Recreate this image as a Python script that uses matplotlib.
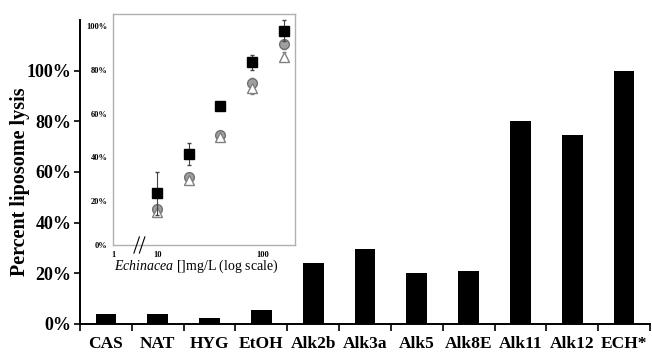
import matplotlib
matplotlib.use("Agg")
import matplotlib.pyplot as plt
import numpy as np

plt.rcParams['font.family'] = ['Liberation Serif', 'DejaVu Serif']
plt.rcParams['mathtext.fontset'] = 'custom'
plt.rcParams['mathtext.rm'] = 'Liberation Serif'
plt.rcParams['mathtext.it'] = 'Liberation Serif:italic'

# Main bar chart data
categories = ["CAS", "NAT", "HYG", "EtOH", "Alk2b", "Alk3a", "Alk5", "Alk8E", "Alk11", "Alk12", "ECH*"]
lysis = [4.0, 3.8, 2.5, 5.5, 24.0, 29.5, 20.0, 21.0, 80.0, 74.5, 100.0]
main_yticks = [0, 20, 40, 60, 80, 100]

# Inset dose-response data (Echinacea mg/L, % lysis)
conc = [10, 20, 40, 80, 160]
squares = [23.6, 41.5, 63.5, 83.4, 97.9]
squares_err = [9.7, 5.0, 1.0, 3.3, 4.8]
circles = [16.3, 30.9, 50.2, 73.8, 91.6]
circles_err = [1.0, 1.0, 1.0, 2.5, 2.0]
triangles = [15.2, 29.7, 49.2, 71.5, 86.0]
triangles_err = [1.0, 1.0, 1.0, 2.5, 2.0]
inset_yticks = [0, 20, 40, 60, 80, 100]

fig = plt.figure(figsize=(6.52, 3.56), dpi=100)
ax = fig.add_axes([80/652, 1-324/356, 570/652, 304/356])

x = np.arange(len(categories))
ax.bar(x, lysis, width=0.4, color='black')
ax.set_xlim(-0.5, len(categories) - 0.5)
ax.set_ylim(0, 120)
ax.set_yticks(main_yticks)
ax.set_yticklabels([f"{v}%" for v in main_yticks], fontsize=13, fontweight='bold')
ax.set_xticks(x)
ax.set_xticklabels(categories, fontsize=12.5, fontweight='bold')
ax.tick_params(axis='x', which='major', length=0, pad=9)
ax.set_xticks(np.arange(-0.5, len(categories) + 0.5, 1.0), minor=True)
ax.tick_params(axis='x', which='minor', length=5, width=1.2, direction='out')
ax.tick_params(axis='y', length=4, width=1.2, direction='out', pad=2)
for s in ['top', 'right']:
    ax.spines[s].set_visible(False)
for s in ['left', 'bottom']:
    ax.spines[s].set_linewidth(1.4)
fig.text(20/652, 1-182/356, "Percent liposome lysis", rotation=90, fontsize=14.5,
         fontweight='bold', ha='center', va='center')

# Inset
ins = fig.add_axes([113/652, 1-245/356, 182/652, 231/356])
ins.set_xscale('log')
xmin, xmax = 3.8, 205
ins.set_xlim(xmin, xmax)
ins.set_ylim(0, 105.5)
ins.errorbar(conc, squares, yerr=squares_err, fmt='s', color='black', ms=7,
             ecolor='#444444', elinewidth=0.8, capsize=1.5, zorder=3)
ins.errorbar(conc, circles, yerr=circles_err, fmt='o', mfc='#a0a0a0', mec='#707070',
             ms=7, ecolor='#707070', elinewidth=0.8, capsize=1.5, zorder=2)
ins.errorbar(conc, triangles, yerr=triangles_err, fmt='^', mfc='white', mec='#808080',
             ms=7, ecolor='#808080', elinewidth=0.8, capsize=1.5, zorder=2)
ins.set_xticks([xmin, 10, 100])
ins.set_xticklabels(["1", "10", "100"], fontsize=6, fontweight='bold')
ins.xaxis.set_minor_locator(matplotlib.ticker.NullLocator())
ins.set_yticks(inset_yticks)
ins.set_yticklabels([f"{v}%" for v in inset_yticks], fontsize=6, fontweight='bold')
ins.tick_params(axis='both', length=0, pad=4)
for s in ins.spines.values():
    s.set_color('#b0b0b0')
    s.set_linewidth(1.0)
ins.set_xlabel(r"$\mathit{Echinacea}$ []mg/L (log scale)", fontsize=10, labelpad=1)
ins.xaxis.set_label_coords((196 - 113) / 182, -0.055)
# axis break marks
for dx in (0.0, 0.03):
    ins.plot([0.115 + dx, 0.145 + dx], [-0.035, 0.035], transform=ins.transAxes,
             color='black', lw=0.8, clip_on=False, zorder=5)

fig.savefig("out.png", dpi=100)
